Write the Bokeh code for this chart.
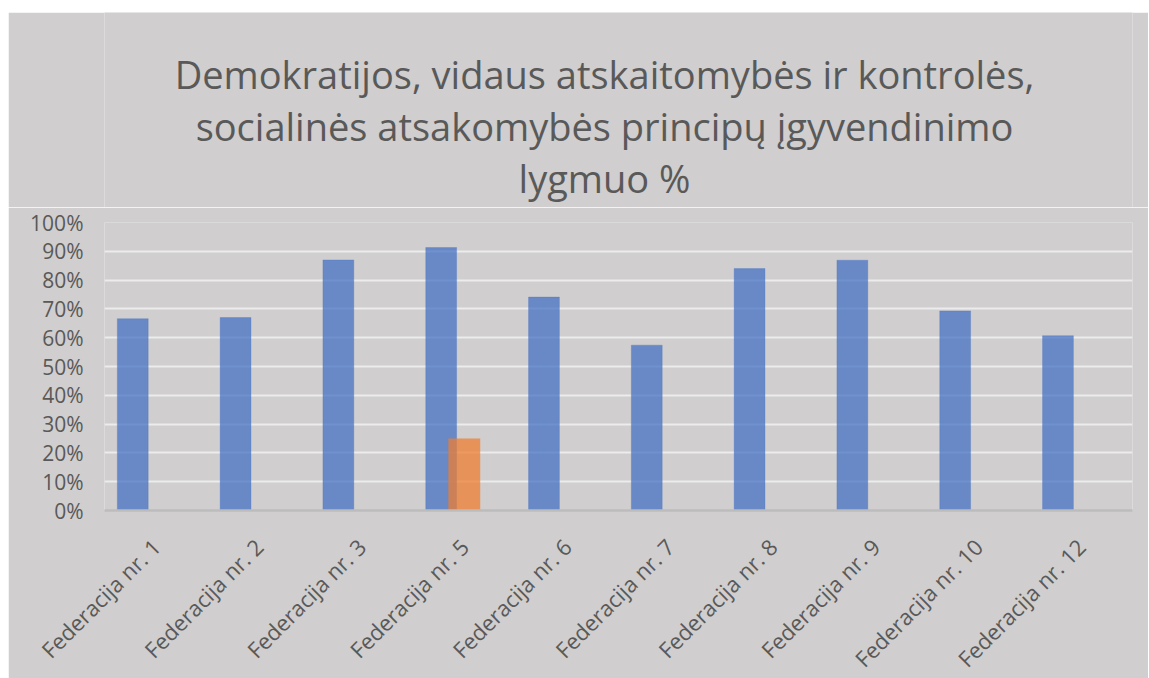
import math
import numpy as np
from bokeh.plotting import figure
from bokeh.models import (FactorRange, Range1d, FixedTicker, NumeralTickFormatter,
                          ColumnDataSource, Spacer)
from bokeh.layouts import column, row
from bokeh.core.properties import value
from bokeh.transform import dodge
from bokeh.embed import file_html
from bokeh.resources import INLINE

categories = ["Federacija nr. 1", "Federacija nr. 2", "Federacija nr. 3", "Federacija nr. 5",
              "Federacija nr. 6", "Federacija nr. 7", "Federacija nr. 8", "Federacija nr. 9",
              "Federacija nr. 10", "Federacija nr. 12"]
series_a = [0.666, 0.670, 0.870, 0.913, 0.741, 0.574, 0.840, 0.869, 0.693, 0.607]
series_b = [None, None, None, 0.25, None, None, None, None, None, None]
y_ticks = [0, 0.1, 0.2, 0.3, 0.4, 0.5, 0.6, 0.7, 0.8, 0.9, 1.0]
title_lines = ["Demokratijos, vidaus atskaitomybės ir kontrolės,",
               "socialinės atsakomybės principų įgyvendinimo",
               "lygmuo %"]

BG = "#d0cece"
TXT = "#595959"
FONT = "Open Sans"

FRAME_W = 1028
BORDER_L, BORDER_R = 96, 16
TITLE_H = 195
TITLE_CX = 500                    # centre of the title block, px from the frame's left edge
TITLE_BASELINES = [61, 113, 165]  # px from top of the title area

# ---- title strip: a bare figure with the same left/right borders as the chart ----
t = figure(x_range=Range1d(0, FRAME_W), y_range=Range1d(0, TITLE_H),
           frame_width=FRAME_W, frame_height=TITLE_H,
           min_border_left=BORDER_L, min_border_right=BORDER_R,
           min_border_top=0, min_border_bottom=0,
           x_axis_location=None, y_axis_location=None,
           output_backend="svg", toolbar_location=None)
t.title = None
t.grid.grid_line_color = None
t.outline_line_color = None
t.background_fill_color = BG
t.border_fill_color = BG
tsrc = ColumnDataSource(dict(
    x=[TITLE_CX] * len(title_lines),
    y=[TITLE_H - b for b in TITLE_BASELINES],
    text=title_lines,
))
t.text(x="x", y="y", text="text", source=tsrc, text_align="center",
       text_baseline="alphabetic", text_font=value(FONT), text_font_size="38px",
       text_color=TXT)

# ---- bar chart ----
src = ColumnDataSource(dict(
    cat=categories,
    a=series_a,
    b=[np.nan if v is None else v for v in series_b],
))

p = figure(x_range=FactorRange(*categories), y_range=Range1d(0, 1),
           output_backend="svg", toolbar_location=None,
           frame_width=FRAME_W, frame_height=288,
           min_border_left=BORDER_L, min_border_right=BORDER_R,
           min_border_top=15, min_border_bottom=167)
p.title = None

p.background_fill_color = BG
p.border_fill_color = BG
p.outline_line_color = None

p.vbar(x=dodge("cat", -0.225, range=p.x_range), top="a", width=0.30, source=src,
       fill_color="#4472c4", fill_alpha=0.74, line_color="#4472c4", line_alpha=0.3, line_width=1)
p.vbar(x=dodge("cat", 0.0, range=p.x_range), top="b", width=0.31, source=src,
       fill_color="#ed7d31", fill_alpha=0.75, line_color=None)

p.xgrid.grid_line_color = None
p.ygrid.grid_line_color = "#ececec"
p.ygrid.grid_line_width = 2
p.ygrid.ticker = FixedTicker(ticks=y_ticks)

ya = p.yaxis[0]
ya.ticker = FixedTicker(ticks=y_ticks)
ya.formatter = NumeralTickFormatter(format="0%")
ya.axis_line_color = None
ya.major_tick_line_color = None
ya.minor_tick_line_color = None
ya.major_label_text_font = FONT
ya.major_label_text_font_size = "21px"
ya.major_label_text_color = TXT
ya.major_label_standoff = 15

xa = p.xaxis[0]
xa.axis_line_color = "#bcbcbc"
xa.axis_line_width = 2.5
xa.major_tick_line_color = None
xa.minor_tick_line_color = None
xa.major_label_orientation = math.pi / 4
xa.major_label_text_font = FONT
xa.major_label_text_font_size = "22px"
xa.major_label_text_color = TXT
xa.major_label_standoff = 26

layout = column(Spacer(height=12), row(Spacer(width=8), column(t, p, spacing=0)), spacing=0)
open("out.html", "w").write(file_html(layout, INLINE))
